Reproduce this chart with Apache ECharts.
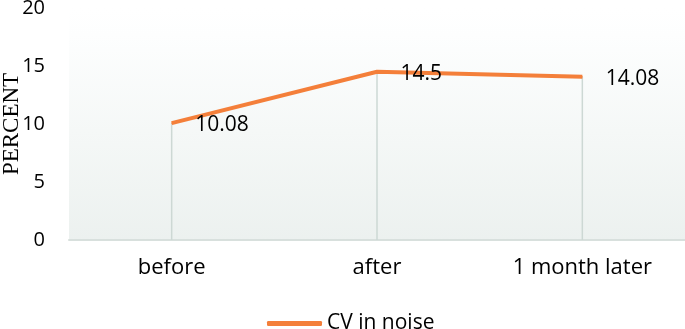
<!DOCTYPE html>
<html>
<head>
<meta charset="utf-8">
<script src="https://cdn.jsdelivr.net/npm/echarts@6/dist/echarts.min.js"></script>
<style>html,body{margin:0;padding:0;background:#fff;}#c{width:685px;height:329px;}</style>
</head>
<body>
<div id="c"></div>
<script>
const categories = ['before', 'after', '1 month later'];
const cvValues = [10.08, 14.5, 14.08];
const seriesName = 'CV in noise';
const yTicks = { min: 0, max: 20, interval: 5 };

const chart = echarts.init(document.getElementById('c'), null, { renderer: 'canvas' });
chart.setOption({
  animation: false,
  backgroundColor: '#ffffff',
  grid: {
    left: 69, right: 0, top: 8, bottom: 89,
    containLabel: false, outerBoundsMode: 'none',
    show: true, borderWidth: 0,
    backgroundColor: new echarts.graphic.LinearGradient(0, 0, 0, 1, [
      { offset: 0, color: '#ffffff' },
      { offset: 0.12, color: '#fdfefe' },
      { offset: 1, color: '#ecf1ef' }
    ])
  },
  legend: {
    bottom: -10, left: 262,
    itemWidth: 55, itemHeight: 5, itemGap: 6,
    data: [{ name: seriesName, icon: 'roundRect' }],
    textStyle: { fontFamily: 'Open Sans', fontSize: 21, color: '#000' }
  },
  xAxis: {
    type: 'category', data: categories, boundaryGap: true,
    axisLine: { lineStyle: { color: '#d8e0dd', width: 2 } },
    axisTick: { show: false },
    axisLabel: { fontFamily: 'Open Sans', fontSize: 22, color: '#000', margin: 17 },
    splitLine: { show: false }
  },
  yAxis: {
    type: 'value', min: yTicks.min, max: yTicks.max, interval: yTicks.interval,
    name: 'PERCENT', nameLocation: 'middle', nameRotate: 90, nameGap: 46,
    nameMoveOverlap: false,
    nameTextStyle: { fontFamily: 'Liberation Serif', fontSize: 23, color: '#000' },
    axisLine: { show: false }, axisTick: { show: false },
    axisLabel: { fontFamily: 'Open Sans', fontSize: 20, color: '#000', margin: 24 },
    splitLine: { show: false }
  },
  series: [
    {
      name: 'drop', type: 'bar', data: cvValues, barWidth: 1.5,
      itemStyle: { color: '#cdd8d4' }, silent: true, z: 1
    },
    {
      name: seriesName, type: 'line', data: cvValues,
      symbol: 'circle', symbolSize: 1, showSymbol: true,
      lineStyle: { color: '#f47f3a', width: 4 },
      itemStyle: { color: '#f47f3a' },
      label: {
        show: true, position: 'right', distance: 23, offset: [0, 2],
        fontFamily: 'Open Sans', fontSize: 21, color: '#000'
      },
      z: 3
    }
  ]
});
</script>
</body>
</html>
